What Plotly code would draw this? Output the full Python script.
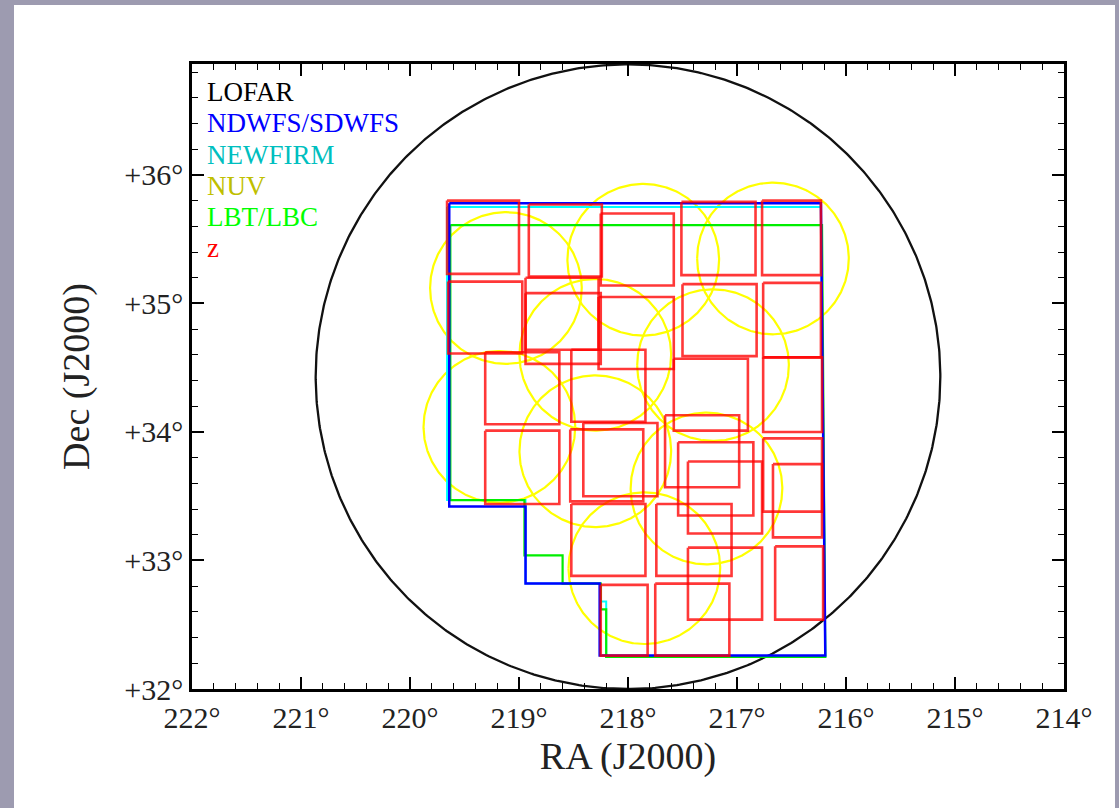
import numpy as np
import plotly.graph_objects as go

# ---------------- data (degrees) ----------------
RA_SCALE = np.cos(np.radians(32.0))   # 1 deg of RA is drawn cos(32 deg) as long as 1 deg of Dec

ra_ticks = [222, 221, 220, 219, 218, 217, 216, 215, 214]
dec_ticks = [32, 33, 34, 35, 36]
ra_ticktext = ["222°", "221°", "220°", "219°", "218°", "217°", "216°", "215°", "214°"]
dec_ticktext = ["+32°", "+33°", "+34°", "+35°", "+36°"]

lofar_ra, lofar_dec, lofar_radius = 218.0, 34.43, 2.43

nuv_ra = [219.12, 217.86, 216.67, 218.30, 217.22, 219.18, 218.30, 217.28, 217.85]
nuv_dec = [35.12, 35.34, 35.35, 34.60, 34.52, 34.04, 33.85, 33.56, 32.94]
nuv_radius = 0.59

ndwfs_ra = [219.64, 216.23, 216.19, 218.26, 218.26, 218.94, 218.94, 219.64, 219.64]
ndwfs_dec = [35.78, 35.78, 32.26, 32.26, 32.82, 32.82, 33.42, 33.42, 35.78]

newfirm_ra = [219.66, 216.23, 216.19, 218.20, 218.20, 218.25, 218.25, 218.94, 218.94, 219.66, 219.66]
newfirm_dec = [35.75, 35.75, 32.25, 32.25, 32.68, 32.68, 32.82, 32.82, 33.47, 33.47, 35.75]

lbc_ra = [219.63, 216.22, 216.19, 218.20, 218.20, 218.25, 218.25, 218.60, 218.60, 218.95, 218.95, 219.63, 219.63]
lbc_dec = [35.61, 35.61, 32.25, 32.25, 32.62, 32.62, 32.82, 32.82, 33.04, 33.04, 33.47, 33.47, 35.61]

# z-band pointings: east RA edge, west RA edge, south Dec edge, north Dec edge
z_ra_east = [219.66, 218.91, 218.25, 219.65, 218.94, 218.94, 218.27, 219.31, 218.52, 217.51,
             216.77, 217.50, 216.76, 217.58, 216.76, 217.66, 219.31, 218.53, 218.41, 217.54,
             217.45, 216.76, 216.67, 218.52, 217.74, 217.45, 216.65, 218.25, 217.75]
z_ra_west = [219.00, 218.24, 217.58, 218.97, 218.27, 218.25, 217.58, 218.63, 217.84, 216.83,
             216.23, 216.82, 216.23, 216.90, 216.22, 216.98, 218.63, 217.86, 217.73, 216.85,
             216.77, 216.22, 216.22, 217.84, 217.05, 216.77, 216.21, 217.82, 217.07]
z_dec_south = [35.23, 35.21, 35.14, 34.61, 34.64, 34.53, 34.49, 34.06, 34.08, 35.22,
               35.22, 34.59, 34.58, 34.01, 34.00, 33.57, 33.44, 33.46, 33.50, 33.35,
               33.21, 33.38, 33.18, 32.88, 32.88, 32.54, 32.54, 32.26, 32.26]
z_dec_north = [35.80, 35.77, 35.70, 35.17, 35.20, 35.08, 35.05, 34.62, 34.64, 35.79,
               35.80, 35.15, 35.16, 34.57, 34.58, 34.13, 34.01, 34.02, 34.07, 33.92,
               33.77, 33.95, 33.75, 33.44, 33.44, 33.10, 33.11, 32.81, 32.82]

legend_names = ["LOFAR", "NDWFS/SDWFS", "NEWFIRM", "NUV", "LBT/LBC", "z"]
legend_colors = ["#000000", "#0000ff", "#00bfbf", "#bfbf00", "#00ff00", "#ff0000"]

# ---------------- helpers ----------------
def circle(ra0, dec0, r, n=361):
    t = np.linspace(0, 2 * np.pi, n)
    return list(ra0 + r / RA_SCALE * np.cos(t)), list(dec0 + r * np.sin(t))

fig = go.Figure()

# LOFAR field
cx, cy = circle(lofar_ra, lofar_dec, lofar_radius, 721)
fig.add_trace(go.Scatter(x=cx, y=cy, mode="lines", line=dict(color="#111111", width=2.3),
                         name="LOFAR", showlegend=False))

# NUV circles
xs, ys = [], []
for ra0, dec0 in zip(nuv_ra, nuv_dec):
    a, b = circle(ra0, dec0, nuv_radius)
    xs += a + [None]
    ys += b + [None]
fig.add_trace(go.Scatter(x=xs, y=ys, mode="lines", line=dict(color="#ffff00", width=2.2),
                         name="NUV", showlegend=False))

# NEWFIRM, LBT/LBC, NDWFS outlines
fig.add_trace(go.Scatter(x=newfirm_ra, y=newfirm_dec, mode="lines",
                         line=dict(color="#00ffff", width=2), name="NEWFIRM", showlegend=False))
fig.add_trace(go.Scatter(x=lbc_ra, y=lbc_dec, mode="lines",
                         line=dict(color="#00ee00", width=2.2), name="LBT/LBC", showlegend=False))
fig.add_trace(go.Scatter(x=ndwfs_ra, y=ndwfs_dec, mode="lines",
                         line=dict(color="#0000ff", width=2.5), name="NDWFS/SDWFS", showlegend=False))

# z pointings
xs, ys = [], []
for e, w, s, n in zip(z_ra_east, z_ra_west, z_dec_south, z_dec_north):
    xs += [e, w, w, e, e, None]
    ys += [n, n, s, s, n, None]
fig.add_trace(go.Scatter(x=xs, y=ys, mode="lines", line=dict(color="rgba(255,0,0,0.78)", width=2.6),
                         name="z", showlegend=False))

# ---------------- layout ----------------
L, R, T, B = 192, 55, 64, 119
W, H = 1119, 808
pw, ph = W - L - R, H - T - B

def px(x):
    return (x - L) / pw

def py(y):
    return 1 - (y - T) / ph

serif = "Liberation Serif"

fig.add_shape(type="rect", xref="paper", yref="paper", layer="below",
              x0=px(14), x1=px(1115), y0=py(820), y1=py(5),
              fillcolor="white", line=dict(width=0))

leg_y = [92, 123.5, 154.5, 185.5, 216.5, 247.5]
for name, col, yy in zip(legend_names, legend_colors, leg_y):
    fig.add_annotation(xref="paper", yref="paper", x=px(206), y=py(yy), text=name,
                       showarrow=False, xanchor="left", yanchor="middle", borderpad=0,
                       font=dict(family=serif, size=27, color=col))

axis_common = dict(
    ticks="inside", ticklen=12, tickwidth=1.5, tickcolor="black",
    showline=True, linewidth=2.5, linecolor="black", mirror="allticks",
    showgrid=False, zeroline=False,
    minor=dict(tickmode="linear", tick0=0, dtick=0.2, ticks="inside", ticklen=6,
               tickwidth=1.2, tickcolor="black", showgrid=False),
    tickfont=dict(family=serif, size=30, color="#222222"),
)

fig.update_layout(
    width=W, height=H,
    margin=dict(l=L, r=R, t=T, b=B),
    paper_bgcolor="#9d9bb0",
    plot_bgcolor="white",
    showlegend=False,
    xaxis=dict(range=[222, 214], tickmode="array", tickvals=ra_ticks, ticktext=ra_ticktext,
               title=dict(text="RA (J2000)", font=dict(family=serif, size=38, color="#222222"), standoff=10),
               **axis_common),
    yaxis=dict(range=[32, 36.863], tickmode="array", tickvals=dec_ticks, ticktext=dec_ticktext,
               title=dict(text="Dec (J2000)", font=dict(family=serif, size=38, color="#222222"), standoff=24),
               **axis_common),
)

fig.write_html("out.html")
